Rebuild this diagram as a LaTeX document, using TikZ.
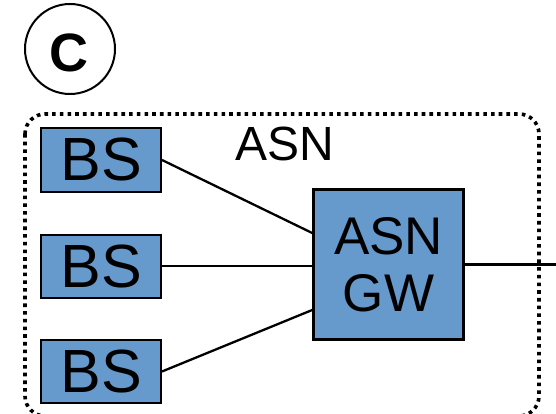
\documentclass[tikz,border=0pt]{standalone}
\usepackage{fontspec}
\setmainfont{Liberation Sans}
\usetikzlibrary{calc}
\definecolor{boxblue}{RGB}{102,153,204}
\begin{document}
\begin{tikzpicture}[x=1pt,y=-1pt,
  bsbox/.style={draw=black,line width=2pt,fill=boxblue,minimum width=120pt,minimum height=63pt,inner sep=0pt,
    font=\fontsize{61}{62}\selectfont},
  gwbox/.style={draw=black,line width=2.6pt,fill=boxblue,minimum width=150pt,minimum height=150pt,inner sep=0pt,
    align=center,font=\fontsize{53}{57}\selectfont},
  conn/.style={draw=black,line width=2.3pt},
  lbl/.style={inner sep=0pt,font=\fontsize{48}{50}\selectfont}]
\useasboundingbox (0,0) rectangle (556,414);
\clip (0,0) rectangle (556,414);
% dotted ASN boundary
\draw[line width=3.6pt,dash pattern=on 3.6pt off 4.1pt,rounded corners=20pt] (25,114) rectangle (539,416);
% circled C
\node[draw=black,line width=2pt,circle,minimum size=90pt,inner sep=0pt] (circ) at (70,49) {};
\node[inner sep=0pt,font=\fontsize{54}{54}\bfseries\selectfont] (c) at (69,53) {C};
% ASN label
\node[lbl] (asn) at (285,144) {ASN};
% boxes
\node[bsbox] (bs1) at (101,160) {BS};
\node[bsbox] (bs2) at (101,266) {BS};
\node[bsbox] (bs3) at (101,371.5) {BS};
\node[gwbox] (gw) at (388.5,264.5) {ASN\\GW};
\coordinate (out) at (556,264.5);
% connectors
\draw[conn] (bs1.east) -- ($(gw.west)+(0,-31.5)$);
\draw[conn] (bs2.east) -- (bs2.east -| gw.west);
\draw[conn] (bs3.east) -- ($(gw.west)+(0,45.5)$);
\draw[conn] (gw.east) -- (out);
\end{tikzpicture}
\end{document}
